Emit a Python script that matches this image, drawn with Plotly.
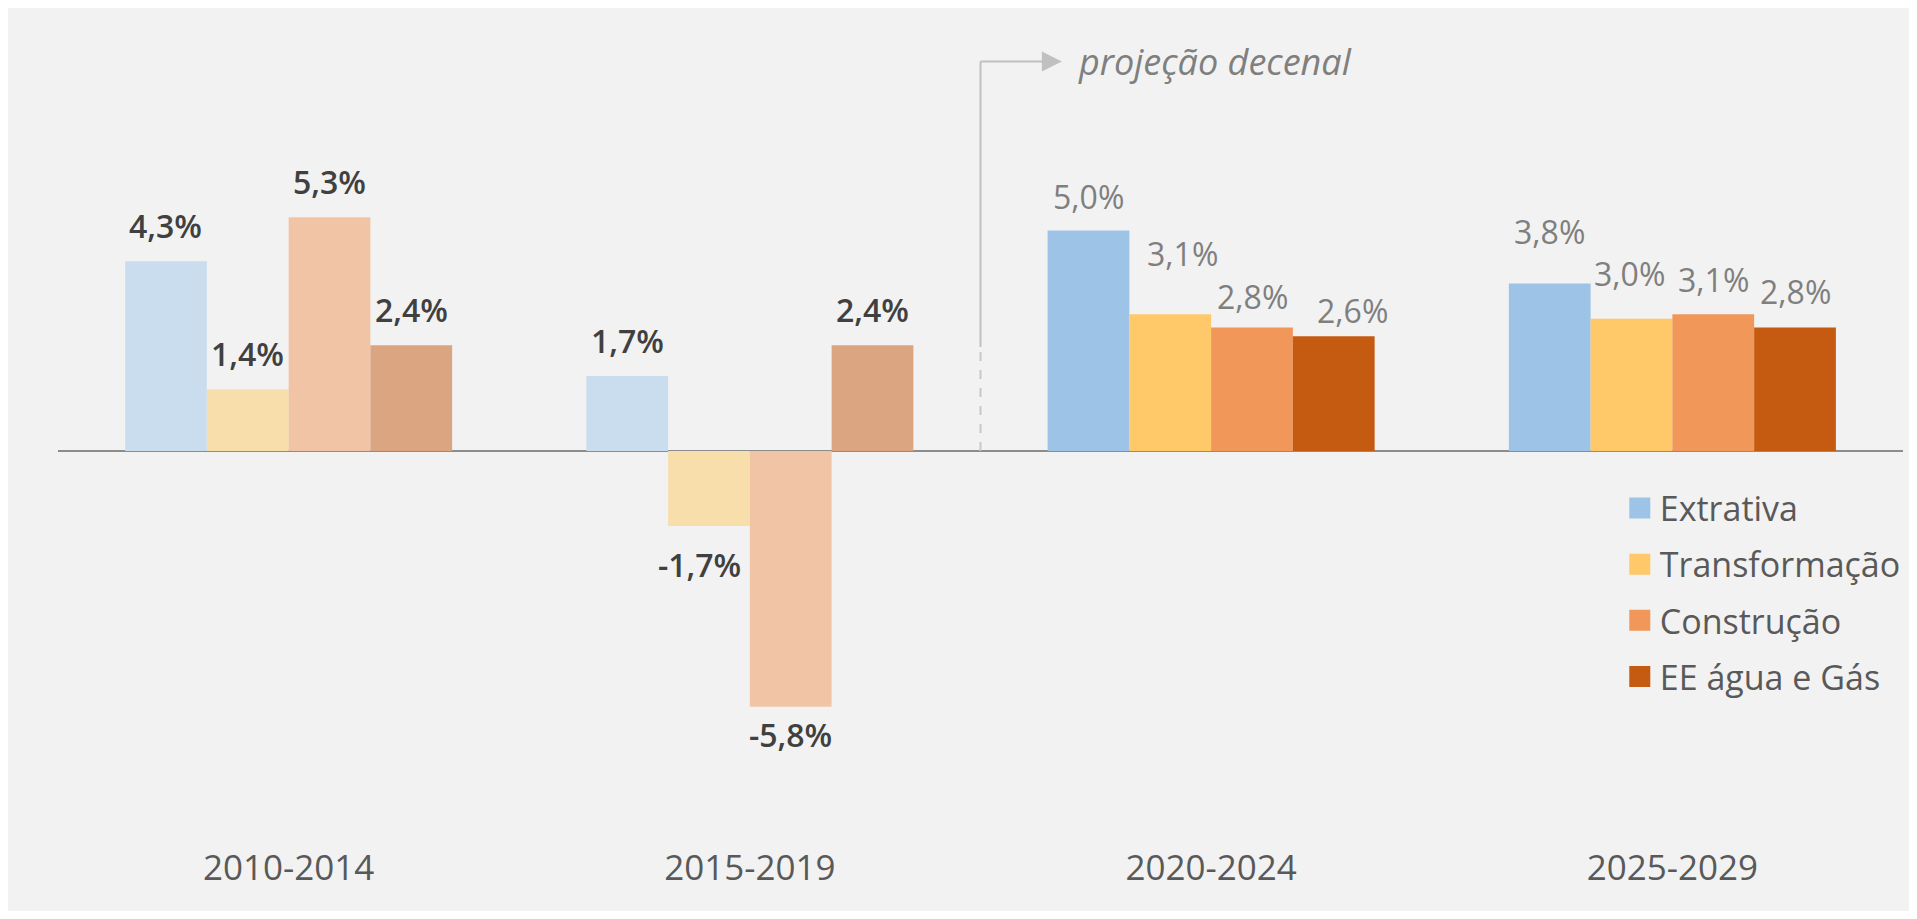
import plotly.graph_objects as go

# ---- data ----
periods = ["2010-2014", "2015-2019", "2020-2024", "2025-2029"]
series_names = ["Extrativa", "Transformação", "Construção", "EE água e Gás"]
extrativa = [4.3, 1.7, 5.0, 3.8]
transformacao = [1.4, -1.7, 3.1, 3.0]
construcao = [5.3, -5.8, 2.8, 3.1]
ee_agua_gas = [2.4, 2.4, 2.6, 2.8]
series_values = [extrativa, transformacao, construcao, ee_agua_gas]
projection_label = "projeção decenal"

# ---- styles ----
full_colors = ["#9dc3e6", "#ffc869", "#f1975a", "#c55a11"]
light_colors = ["#c9ddee", "#f8deab", "#f2c4a6", "#dca581"]
historic = [True, True, False, False]  # first two periods are drawn lighter

# label nudges in pixels (dx, dy) per series per period, as placed in the original
label_nudge = [
    [(0, 0), (0, 0), (0, -2), (0, 16)],
    [(0, 0), (-10, -5), (12, 25), (-2, 9)],
    [(0, 0), (0, 6), (0, -5), (0, -1)],
    [(0, 0), (0, 0), (19, -10), (0, 0)],
]

FONT = "Open Sans, Noto Sans, DejaVu Sans, sans-serif"
LABEL_SIZE = 32
BARGAP = 0.291

fig = go.Figure()

for j, (name, vals) in enumerate(zip(series_names, series_values)):
    cols = [light_colors[j] if h else full_colors[j] for h in historic]
    fig.add_trace(go.Bar(
        x=periods, y=vals, name=name,
        marker=dict(color=cols, line=dict(width=0)),
        showlegend=False, hoverinfo="skip",
    ))

# legend entries (square markers)
for j, name in enumerate(series_names):
    fig.add_trace(go.Scatter(
        x=[None], y=[None], mode="markers", name=name, legendgroup=name,
        marker=dict(symbol="square", size=16, color=full_colors[j],
                    line=dict(color=full_colors[j], width=5)),
        hoverinfo="skip",
    ))

# data labels
n = len(series_names)
bw = (1 - BARGAP) / n
annotations = []
for j, vals in enumerate(series_values):
    off = (j - (n - 1) / 2) * bw
    for i, v in enumerate(vals):
        txt = f"{v:.1f}%".replace(".", ",")
        if historic[i]:
            font = dict(family=FONT, size=LABEL_SIZE, color="#404040", weight=600)
        else:
            font = dict(family=FONT, size=LABEL_SIZE, color="#7f7f7f")
        dx, dy = label_nudge[j][i]
        annotations.append(dict(
            x=i + off, y=v, xref="x", yref="y", text=txt, showarrow=False,
            xanchor="center", yanchor="middle",
            xshift=dx, yshift=(36 if v >= 0 else -34) + dy, font=font,
        ))

# projection marker
xdiv = 1.5
ytop = 8.83
annotations.append(dict(
    x=1.708, y=ytop, xref="x", yref="y", text=projection_label, showarrow=False,
    xanchor="left", yanchor="middle", yshift=0,
    font=dict(family=FONT, size=36, color="#7f7f7f", style="italic"),
))

shapes = [
    dict(type="line", xref="x", yref="y", x0=xdiv, x1=xdiv, y0=2.36, y1=ytop,
         line=dict(color="#c0c0c0", width=2)),
    dict(type="line", xref="x", yref="y", x0=xdiv, x1=xdiv, y0=0, y1=2.36,
         line=dict(color="#c8c8c8", width=2, dash="dash")),
    dict(type="line", xref="x", yref="y", x0=xdiv, x1=1.635, y0=ytop, y1=ytop,
         line=dict(color="#c0c0c0", width=2)),
    dict(type="path", xref="x", yref="y", xsizemode="pixel", ysizemode="pixel",
         xanchor=1.633, yanchor=ytop, path="M 0,10 L 20,0 L 0,-10 Z",
         fillcolor="#c0c0c0", line=dict(width=0)),
]

fig.update_layout(
    width=1901, height=903,
    paper_bgcolor="#f2f2f2", plot_bgcolor="#f2f2f2",
    margin=dict(l=50, r=3, t=22, b=67),
    barmode="group", bargap=BARGAP, bargroupgap=0,
    font=dict(family=FONT, color="#595959"),
    annotations=annotations, shapes=shapes,
    legend=dict(x=0.8465, y=0.4480, xanchor="left", yanchor="top",
                bgcolor="rgba(0,0,0,0)", tracegroupgap=9,
                font=dict(family=FONT, size=34, color="#595959"),
                itemsizing="trace"),
    xaxis=dict(type="category", range=[-0.5, 3.5], showgrid=False, showline=False,
               ticks="", zeroline=False,
               tickfont=dict(family=FONT, size=35, color="#595959")),
    yaxis=dict(range=[-8.912, 9.546], showgrid=False, showticklabels=False,
               zeroline=True, zerolinecolor="#8c8c8c", zerolinewidth=2,
               showline=False),
    showlegend=True,
)

fig.write_html("out.html")
